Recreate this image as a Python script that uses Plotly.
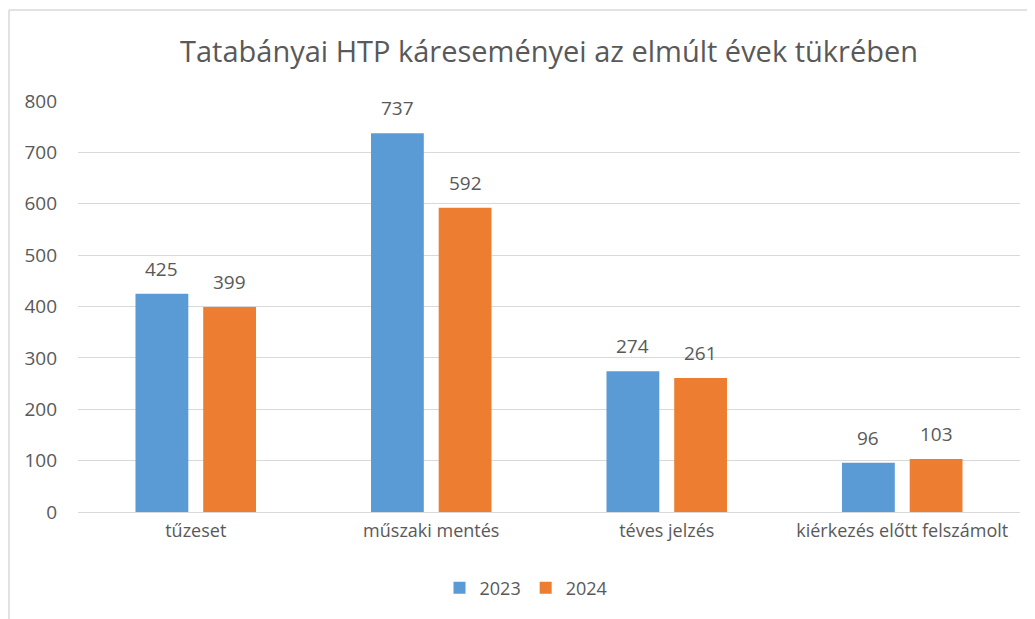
import plotly.graph_objects as go

categories = ["tűzeset", "műszaki mentés", "téves jelzés", "kiérkezés előtt felszámolt"]
values_2023 = [425, 737, 274, 96]
values_2024 = [399, 592, 261, 103]
series_names = ["2023", "2024"]
colors = ["#5B9BD5", "#ED7D31"]

# page offset of 8px (body margin) accounted for below
W, H = 1035, 619
L, R, T, B = 70, 23, 93, 115
pw, ph = W - L - R, H - T - B
BARGAP = 0.425

font_family = "Open Sans, Noto Sans, sans-serif"
txt = "#595959"

fig = go.Figure()
series_vals = [values_2023, values_2024]
for name, vals, c in zip(series_names, series_vals, colors):
    fig.add_trace(go.Bar(
        x=categories, y=vals, name=name, marker_color=c, marker_line_width=0,
        cliponaxis=False,
    ))

# data labels as annotations (value text), offset to each bar's slot within group
slot_px = pw / len(categories) * (1 - BARGAP) / len(series_vals)
annotations = []
for j, vals in enumerate(series_vals):
    off = (j - (len(series_vals) - 1) / 2) * slot_px
    for cat, v in zip(categories, vals):
        annotations.append(dict(
            x=cat, y=v, xref="x", yref="y", text=str(v), showarrow=False,
            xanchor="center", yanchor="bottom", xshift=off, yshift=10,
            font=dict(size=19, color=txt, family=font_family),
        ))

def px_x(x):
    return (x - L) / pw

def px_y(y):
    return (H - B - y) / ph

fig.update_layout(
    width=W, height=H,
    margin=dict(l=L, r=R, t=T, b=B, autoexpand=False),
    paper_bgcolor="white", plot_bgcolor="white",
    barmode="group", bargap=BARGAP, bargroupgap=0.22,
    title=dict(text="Tatabányai HTP káreseményei az elmúlt évek tükrében",
               x=0.5, xref="paper", xanchor="center", y=1 - 44 / H, yanchor="middle",
               font=dict(size=29, color=txt, family=font_family)),
    font=dict(family=font_family, color=txt, size=18),
    xaxis=dict(showgrid=False, showline=False, ticks="", tickfont=dict(size=18, color=txt),
               ticklabelstandoff=6),
    yaxis=dict(range=[0, 800], dtick=100, showgrid=True, gridcolor="#d9d9d9", gridwidth=1,
               zeroline=True, zerolinecolor="#d9d9d9", zerolinewidth=1, showline=False,
               ticks="", tickfont=dict(size=19, color=txt), ticklabelstandoff=20),
    legend=dict(orientation="h", x=px_x(518), xanchor="center", y=px_y(580), yanchor="middle",
                font=dict(size=18, color=txt), traceorder="normal"),
    annotations=annotations,
    shapes=[
        dict(type="line", xref="paper", yref="paper", x0=px_x(1), x1=px_x(1),
             y0=px_y(2), y1=px_y(H), line=dict(color="#d9d9d9", width=1.5)),
        dict(type="line", xref="paper", yref="paper", x0=px_x(1), x1=px_x(W),
             y0=px_y(2), y1=px_y(2), line=dict(color="#d9d9d9", width=1.5)),
    ],
)

fig.write_html("out.html")
